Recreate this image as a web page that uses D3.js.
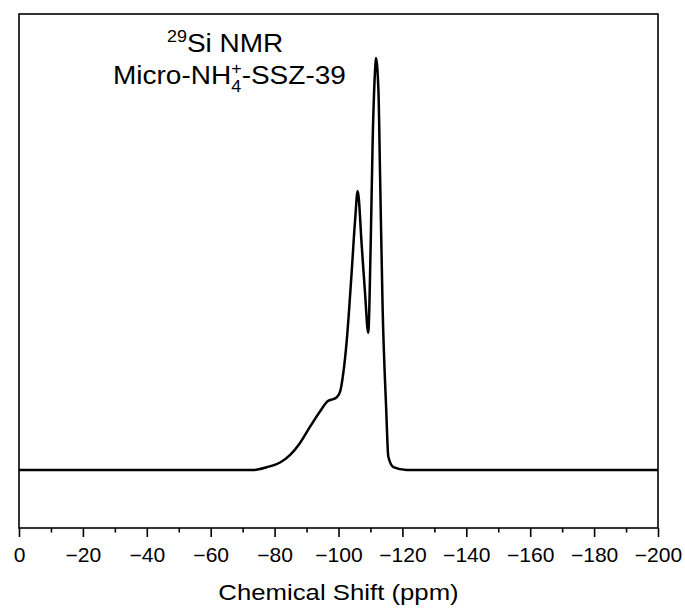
<!DOCTYPE html>
<html>
<head>
<meta charset="utf-8">
<script src="https://cdn.jsdelivr.net/npm/d3@7"></script>
<style>
  html, body { margin: 0; padding: 0; background: #fff; }
  svg { display: block; }
  text { font-family: "Liberation Sans", Arial, Helvetica, sans-serif; fill: #000; }
</style>
</head>
<body>
<svg id="chart" width="685" height="610"></svg>
<script>
// 29Si NMR spectrum, chemical shift in ppm (x) and normalised intensity (y)
const shiftPpm = [
  0, -40, -60, -73.2, -77.5, -81.7, -84.8, -87.9, -91.1, -94.2, -96.8, -98.4,
  -99.4, -100.5, -101.5, -102.6, -104.1, -105.2, -106.0, -107.3, -108.3,
  -109.3, -110.1, -110.7, -111.4, -111.7, -112.5, -113.0, -113.8, -114.9,
  -115.6, -117.2, -121.3, -160, -200
];
const intensity = [
  0, 0, 0, 0, 0.0066, 0.018, 0.036, 0.065, 0.105, 0.142, 0.168, 0.172,
  0.176, 0.19, 0.235, 0.316, 0.478, 0.607, 0.677, 0.541, 0.430,
  0.333, 0.558, 0.801, 0.964, 1.0, 0.922, 0.721, 0.396, 0.153,
  0.032, 0.007, 0, 0, 0
];

const majorTicks = [0, -20, -40, -60, -80, -100, -120, -140, -160, -180, -200];
const minorTicks = [-10, -30, -50, -70, -90, -110, -130, -150, -170, -190];
const tickLabels = ["0", "\u221220", "\u221240", "\u221260", "\u221280", "\u2212100",
                    "\u2212120", "\u2212140", "\u2212160", "\u2212180", "\u2212200"];
const xTitle = "Chemical Shift (ppm)";

const plotLeft = 19, plotRight = 658, plotTop = 14, plotBottom = 528;
const textStretch = 1.12;

const svg = d3.select("#chart");

const x = d3.scaleLinear().domain([0, -200]).range([plotLeft, plotRight]);
const y = d3.scaleLinear().domain([-0.141, 1.107]).range([plotBottom, plotTop]);

// spectrum trace
const points = shiftPpm.map((s, i) => [s, intensity[i]]);
const line = d3.line()
  .x(d => x(d[0]))
  .y(d => y(d[1]))
  .curve(d3.curveMonotoneX);

svg.append("path")
  .datum(points)
  .attr("d", line)
  .attr("fill", "none")
  .attr("stroke", "#000")
  .attr("stroke-width", 2.5)
  .attr("stroke-linejoin", "round");

// frame
svg.append("rect")
  .attr("x", plotLeft).attr("y", plotTop)
  .attr("width", plotRight - plotLeft).attr("height", plotBottom - plotTop)
  .attr("fill", "none")
  .attr("stroke", "#000")
  .attr("stroke-width", 1.6);

// bottom axis: major ticks with labels, minor ticks without
const axisMajor = d3.axisBottom(x)
  .tickValues(majorTicks)
  .tickSize(9)
  .tickFormat((d, i) => tickLabels[i]);
const gMajor = svg.append("g")
  .attr("transform", `translate(0,${plotBottom})`)
  .call(axisMajor);
gMajor.select(".domain").remove();
gMajor.selectAll(".tick line").attr("stroke", "#000").attr("stroke-width", 1.6);
gMajor.selectAll(".tick text")
  .attr("y", 0).attr("dy", null)
  .attr("font-size", 19.5)
  .attr("font-family", "'Liberation Sans', Arial, sans-serif")
  .attr("fill", "#000")
  .attr("transform", `translate(0,34) scale(1.08,1)`);

const axisMinor = d3.axisBottom(x)
  .tickValues(minorTicks)
  .tickSize(4.5)
  .tickFormat("");
const gMinor = svg.append("g")
  .attr("transform", `translate(0,${plotBottom})`)
  .call(axisMinor);
gMinor.select(".domain").remove();
gMinor.selectAll(".tick line").attr("stroke", "#000").attr("stroke-width", 1.6);

// axis title
svg.append("text")
  .attr("transform", `translate(${(plotLeft + plotRight) / 2},600) scale(${textStretch},1)`)
  .attr("text-anchor", "middle")
  .attr("font-size", 23)
  .text(xTitle);

// annotation, line 1: 29Si NMR
const a1 = svg.append("g").attr("transform", `translate(167,52) scale(${textStretch},1)`);
const sup29 = a1.append("text").attr("font-size", 16).attr("y", -10).text("29");
const w29 = sup29.node().getComputedTextLength();
a1.append("text").attr("font-size", 25).attr("x", w29).text("Si NMR");

// annotation, line 2: Micro-NH4+-SSZ-39 with stacked sub/superscript
const a2 = svg.append("g").attr("transform", `translate(113,84) scale(${textStretch},1)`);
const base = a2.append("text").attr("font-size", 25).text("Micro-NH");
const wBase = base.node().getComputedTextLength();
const sub4 = a2.append("text").attr("font-size", 16).attr("x", wBase).attr("y", 8).text("4");
const supPlus = a2.append("text").attr("font-size", 16).attr("x", wBase).attr("y", -10).text("+");
const wStack = Math.max(sub4.node().getComputedTextLength(), supPlus.node().getComputedTextLength());
a2.append("text").attr("font-size", 25).attr("x", wBase + wStack).text("-SSZ-39");
</script>
</body>
</html>
